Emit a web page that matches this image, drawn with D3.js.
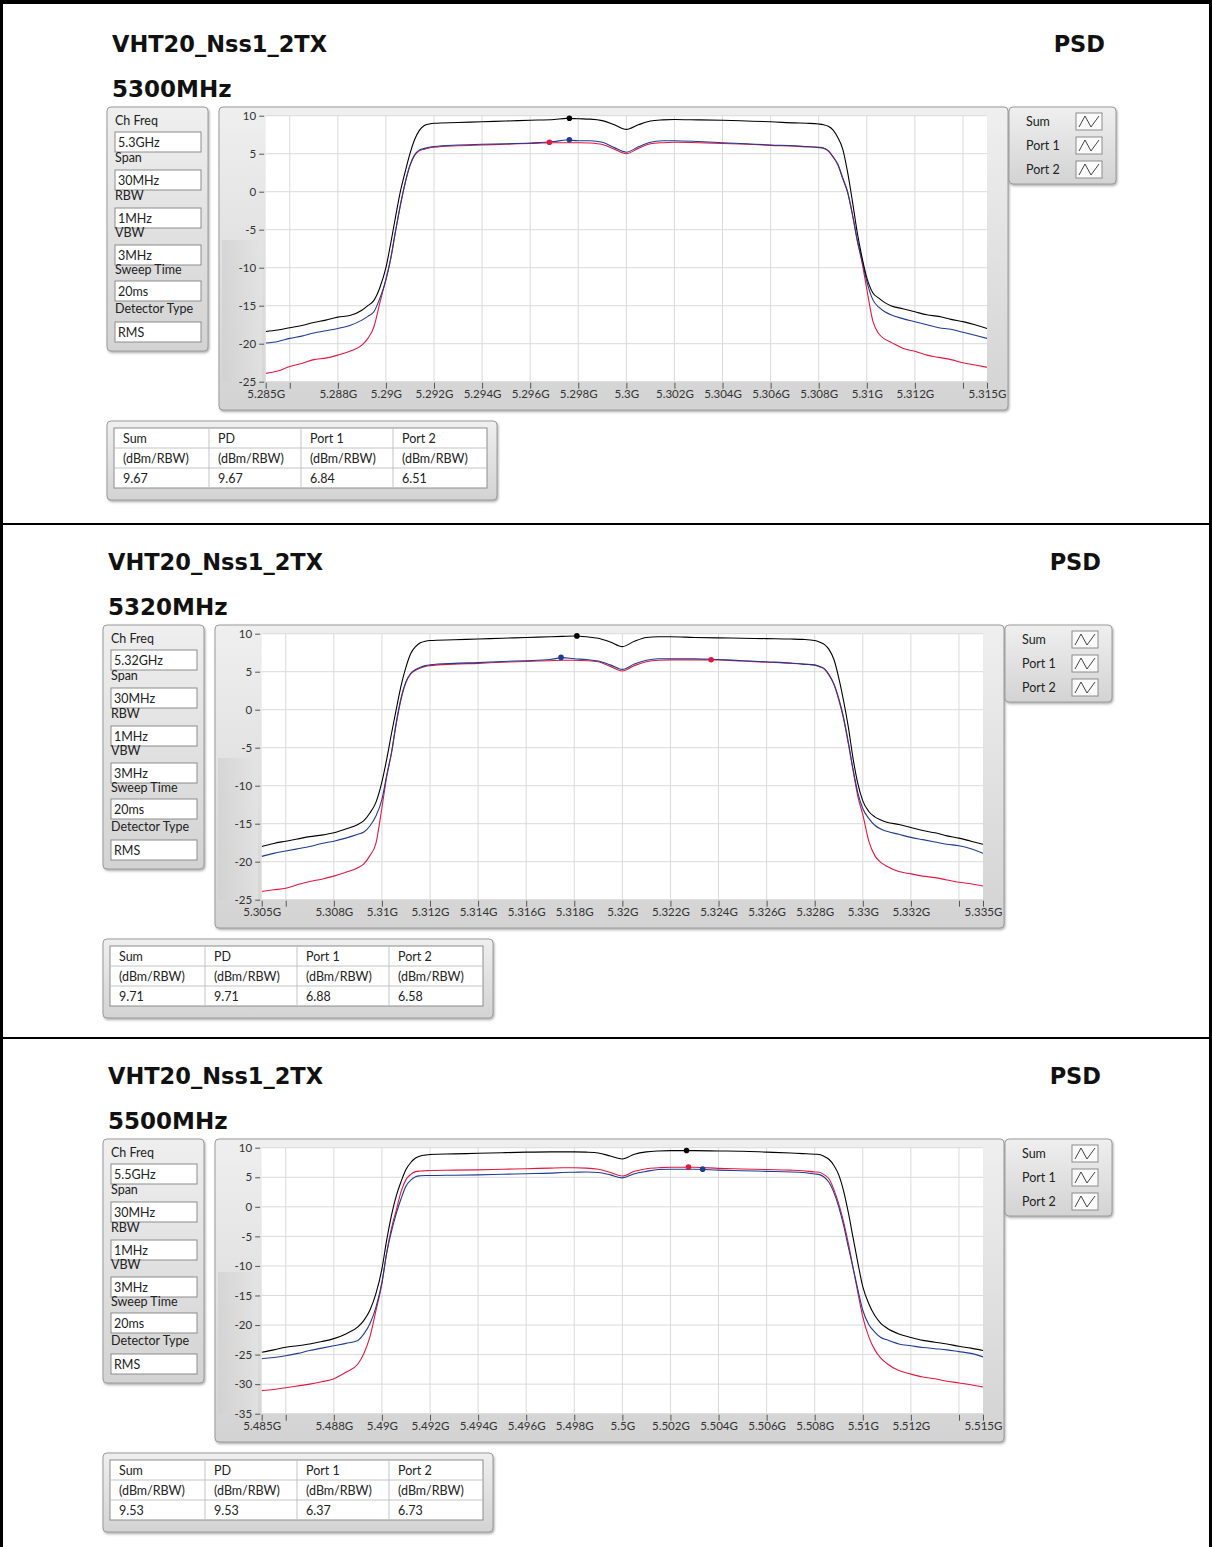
<!DOCTYPE html>
<html>
<head>
<meta charset="utf-8">
<script src="https://cdn.jsdelivr.net/npm/d3@7"></script>
<style>
body { margin: 0; background: #fff; }
svg text { font-family: Lato, "Noto Sans", sans-serif; fill: #222; }
.title { font-family: "DejaVu Sans", sans-serif; font-weight: bold; font-size: 22.5px; fill: #111; }
.ui { font-size: 12.5px; }
.tick text { font-family: Lato, "Noto Sans", sans-serif; font-size: 11.5px; fill: #333; }
</style>
</head>
<body>
<svg id="chart" width="1212" height="1547"></svg>
<script>
// ---- data ----
var modeTitle = "VHT20_Nss1_2TX";
var pageTag = "PSD";
var channelLabels = ["5300MHz", "5320MHz", "5500MHz"];
var centerFreqs = [5300, 5320, 5500];           // MHz
var yMins = [-25, -25, -35];
var yMax = 10;

var paramLabels = ["Ch Freq", "Span", "RBW", "VBW", "Sweep Time", "Detector Type"];
var paramValues = [
    ["5.3GHz", "30MHz", "1MHz", "3MHz", "20ms", "RMS"],
    ["5.32GHz", "30MHz", "1MHz", "3MHz", "20ms", "RMS"],
    ["5.5GHz", "30MHz", "1MHz", "3MHz", "20ms", "RMS"]
];

var seriesNames = ["Sum", "Port 1", "Port 2"];
var tableHeaders = ["Sum", "PD", "Port 1", "Port 2"];
var tableUnit = "(dBm/RBW)";
var tableValues = [
    ["9.67", "9.67", "6.84", "6.51"],
    ["9.71", "9.71", "6.88", "6.58"],
    ["9.53", "9.53", "6.37", "6.73"]
];

// x ticks, MHz from centre
var labelTickOffsets = [-15, -12, -10, -8, -6, -4, -2, 0, 2, 4, 6, 8, 10, 12, 15];
var plainTickOffsets = [-14, 14];
var gridOffsets = [-14, -12, -10, -8, -6, -4, -2, 0, 2, 4, 6, 8, 10, 12, 14];

// trace sample points, MHz from centre
var offsets = [-15, -14.5, -14, -13.5, -13, -12.5, -12, -11.5, -11, -10.75, -10.5, -10.25,
    -10, -9.8, -9.6, -9.4, -9.2, -9, -8.8, -8.6, -8.4, -8.2, -8,
    -7, -6, -5, -4, -3, -2.5, -2, -1.5, -1, -0.5, 0, 0.5, 1, 1.5, 2, 3, 4, 5, 6, 7, 7.5, 8,
    8.2, 8.4, 8.6, 8.8, 9, 9.2, 9.4, 9.6, 9.8, 10, 10.25,
    10.5, 10.75, 11, 11.5, 12, 12.5, 13, 13.5, 14, 14.5, 15];

var sum5300 = [-18.4, -18.2, -17.9, -17.6, -17.2, -16.9, -16.5, -16.3, -15.6, -15.0, -14.3, -12.6,
    -10.0, -6.8, -3.3, 0.0, 2.6, 5.0, 6.9, 8.1, 8.7, 8.9, 9.0,
    9.1, 9.2, 9.3, 9.4, 9.5, 9.65, 9.6, 9.55, 9.35, 8.8, 8.2, 8.8, 9.3, 9.45, 9.5, 9.45, 9.4, 9.3, 9.2, 9.05, 9.0, 8.9,
    8.8, 8.6, 8.1, 7.1, 5.6, 2.6, -1.2, -5.3, -8.6, -11.3, -13.3,
    -14.0, -14.6, -15.0, -15.4, -15.8, -16.2, -16.4, -16.8, -17.1, -17.5, -18.0];
var port1_5300 = [-19.9, -19.7, -19.3, -19.0, -18.6, -18.3, -18.0, -17.6, -16.9, -16.4, -15.8, -14.0,
    -11.6, -8.8, -5.2, -1.8, 1.2, 3.5, 4.9, 5.5, 5.7, 5.85, 5.95,
    6.15, 6.25, 6.3, 6.4, 6.6, 6.8, 6.7, 6.7, 6.5, 5.8, 5.2, 5.9, 6.5, 6.7, 6.7, 6.6, 6.45, 6.3, 6.15, 6.05, 5.95, 5.85,
    5.75, 5.4, 4.6, 3.6, 1.8, 0.0, -2.9, -6.3, -9.0, -11.8, -14.2,
    -15.2, -15.8, -16.2, -16.7, -17.1, -17.5, -17.9, -18.1, -18.5, -18.9, -19.3];
var port2_5300 = [-23.9, -23.6, -23.0, -22.6, -22.1, -21.9, -21.5, -21.0, -20.2, -19.3, -17.8, -14.6,
    -11.5, -8.8, -5.2, -1.8, 1.1, 3.4, 4.8, 5.4, 5.6, 5.75, 5.85,
    6.05, 6.15, 6.25, 6.35, 6.45, 6.45, 6.45, 6.4, 6.2, 5.6, 5.0, 5.7, 6.3, 6.45, 6.5, 6.45, 6.35, 6.25, 6.1, 6.0, 5.9, 5.8,
    5.7, 5.35, 4.55, 3.5, 1.7, -0.1, -3.0, -6.4, -9.3, -12.8, -17.0,
    -18.7, -19.4, -19.8, -20.6, -21.0, -21.5, -21.8, -22.1, -22.5, -22.8, -23.1];

var sum5320 = [-18.0, -17.6, -17.3, -17.0, -16.7, -16.5, -16.2, -15.7, -15.1, -14.6, -13.6, -12.2,
    -9.5, -6.5, -3.1, 0.1, 3.2, 5.6, 7.4, 8.3, 8.8, 9.0, 9.1,
    9.2, 9.3, 9.4, 9.5, 9.6, 9.65, 9.7, 9.6, 9.4, 8.9, 8.3, 9.0, 9.5, 9.6, 9.6, 9.5, 9.45, 9.4, 9.35, 9.3, 9.25, 9.1,
    8.9, 8.6, 7.9, 6.6, 4.2, 1.2, -2.3, -6.5, -9.8, -12.0, -13.4,
    -14.1, -14.5, -14.8, -15.1, -15.5, -15.9, -16.2, -16.6, -16.9, -17.3, -17.7];
var port1_5320 = [-19.3, -18.9, -18.6, -18.3, -18.0, -17.6, -17.3, -16.9, -16.4, -16.1, -15.3, -14.0,
    -11.8, -8.6, -5.6, -1.6, 1.6, 3.7, 4.8, 5.3, 5.6, 5.8, 5.9,
    6.1, 6.2, 6.35, 6.45, 6.6, 6.85, 6.7, 6.6, 6.4, 5.9, 5.3, 6.0, 6.5, 6.7, 6.7, 6.7, 6.6, 6.45, 6.3, 6.15, 6.0, 5.9,
    5.7, 5.4, 4.6, 3.4, 1.5, -1.0, -4.3, -7.9, -11.0, -13.0, -14.3,
    -15.2, -15.7, -16.0, -16.4, -16.8, -17.1, -17.4, -17.7, -17.9, -18.3, -18.9];
var port2_5320 = [-23.9, -23.7, -23.5, -23.0, -22.6, -22.3, -21.9, -21.4, -20.8, -20.3, -19.2, -17.6,
    -12.9, -8.8, -5.7, -1.8, 1.4, 3.6, 4.7, 5.2, 5.5, 5.7, 5.8,
    6.0, 6.1, 6.25, 6.35, 6.45, 6.5, 6.5, 6.45, 6.3, 5.7, 5.1, 5.8, 6.3, 6.5, 6.55, 6.55, 6.55, 6.4, 6.25, 6.1, 6.0, 5.85,
    5.65, 5.35, 4.5, 3.3, 1.3, -1.2, -4.5, -8.1, -11.5, -13.8, -17.3,
    -19.2, -20.1, -20.6, -21.3, -21.6, -21.9, -22.1, -22.4, -22.7, -22.9, -23.2];

var sum5500 = [-24.6, -24.2, -23.75, -23.5, -23.2, -22.8, -22.3, -21.5, -20.3, -19.2, -17.5, -14.7,
    -10.5, -5.6, -1.4, 1.9, 4.3, 6.3, 7.5, 8.25, 8.6, 8.75, 8.85,
    8.95, 9.05, 9.15, 9.25, 9.3, 9.3, 9.3, 9.25, 9.1, 8.6, 8.1, 8.9, 9.3, 9.45, 9.5, 9.5, 9.45, 9.4, 9.25, 9.1, 9.0, 8.9,
    8.85, 8.5, 8.0, 7.0, 5.4, 2.7, -1.0, -5.3, -9.6, -13.5, -16.4,
    -18.4, -19.7, -20.5, -21.5, -22.1, -22.6, -22.9, -23.2, -23.6, -23.9, -24.3];
var port1_5500 = [-25.7, -25.5, -25.2, -24.8, -24.3, -23.9, -23.5, -23.1, -22.6, -21.5, -19.8, -17.0,
    -12.8, -7.8, -4.1, -1.1, 1.4, 3.5, 4.5, 5.1, 5.25, 5.3, 5.3,
    5.35, 5.4, 5.5, 5.6, 5.7, 5.8, 5.85, 5.9, 5.8, 5.4, 4.9, 5.6, 6.0, 6.3, 6.35, 6.35, 6.2, 6.1, 6.0, 5.9, 5.8, 5.55,
    5.45, 5.0, 4.1, 2.4, 0.0, -3.1, -6.8, -10.4, -14.1, -17.5, -19.9,
    -21.2, -22.1, -22.5, -23.2, -23.5, -23.8, -24.0, -24.2, -24.5, -24.8, -25.4];
var port2_5500 = [-31.1, -30.9, -30.6, -30.3, -30.0, -29.6, -29.1, -28.0, -26.6, -24.8, -22.0, -17.6,
    -13.0, -7.7, -3.6, -0.5, 2.6, 4.6, 5.5, 5.95, 6.05, 6.1, 6.15,
    6.2, 6.25, 6.35, 6.45, 6.55, 6.6, 6.6, 6.55, 6.35, 5.8, 5.2, 6.0, 6.45, 6.6, 6.7, 6.7, 6.5, 6.4, 6.3, 6.2, 6.1, 5.9,
    5.85, 5.4, 4.7, 2.9, 0.5, -2.5, -6.2, -10.4, -14.6, -18.6, -22.0,
    -24.2, -25.6, -26.5, -27.7, -28.3, -28.8, -29.1, -29.5, -29.8, -30.1, -30.5];

// peak markers: MHz from centre for Sum, Port 1, Port 2 (levels are the table values)
var markerOffsets = [[-2.37, -2.37, -3.2], [-1.89, -2.55, 3.69], [2.67, 3.34, 2.75]];

var panelTraces = [
    [sum5300, port1_5300, port2_5300],
    [sum5320, port1_5320, port2_5320],
    [sum5500, port1_5500, port2_5500]
];

// ---- layout ----
var seriesColors = ["#000000", "#1f3c92", "#e3173f"];
var panelShift = [[0, 0], [-4, 518], [-4, 1032]];
var plot = {left: 265.7, right: 987, top: 115.7, bottom: 381.7};
var fieldTops = [132, 170, 208, 245, 281, 322];
var labelBase = [125, 162, 200, 237, 274, 313];
var colEdges = [114, 209, 301, 393, 487];
var rowEdges = [428, 448, 468, 488];

var svg = d3.select("#chart");
var defs = svg.append("defs");

var grad = defs.append("linearGradient").attr("id", "frameGrad")
    .attr("x1", 0).attr("y1", 0).attr("x2", 0).attr("y2", 1);
grad.append("stop").attr("offset", "0%").attr("stop-color", "#efefef");
grad.append("stop").attr("offset", "100%").attr("stop-color", "#d3d3d3");

var side = defs.append("linearGradient").attr("id", "sideGrad")
    .attr("x1", 0).attr("y1", 0).attr("x2", 1).attr("y2", 0);
side.append("stop").attr("offset", "0%").attr("stop-color", "#d0d0d0");
side.append("stop").attr("offset", "100%").attr("stop-color", "#e4e4e4");

defs.append("filter").attr("id", "shadow")
    .attr("x", "-5%").attr("y", "-5%").attr("width", "110%").attr("height", "115%")
    .append("feDropShadow")
    .attr("dx", 1).attr("dy", 1.5).attr("stdDeviation", 1.2)
    .attr("flood-color", "#666").attr("flood-opacity", 0.55);

function frame(g, x, y, w, h, fill) {
    return g.append("rect")
        .attr("x", x).attr("y", y).attr("width", w).attr("height", h)
        .attr("rx", 4)
        .attr("fill", fill || "url(#frameGrad)")
        .attr("stroke", "#9c9c9c")
        .attr("filter", "url(#shadow)");
}

function drawPanel(i) {
    var g = svg.append("g")
        .attr("transform", "translate(" + panelShift[i][0] + "," + panelShift[i][1] + ")");
    var center = centerFreqs[i];

    // headings
    g.append("text").attr("class", "title").attr("x", 112).attr("y", 52).text(modeTitle);
    g.append("text").attr("class", "title").attr("x", 1105).attr("y", 52)
        .attr("text-anchor", "end").text(pageTag);
    g.append("text").attr("class", "title").attr("x", 112).attr("y", 97)
        .style("font-size", "23px").text(channelLabels[i]);

    // settings box
    frame(g, 107, 107, 101, 244);
    paramLabels.forEach(function (lab, k) {
        g.append("text").attr("class", "ui").attr("x", 115).attr("y", labelBase[k]).text(lab);
        g.append("rect").attr("x", 115).attr("y", fieldTops[k]).attr("width", 86).attr("height", 20)
            .attr("fill", "#fff").attr("stroke", "#8c8c8c");
        g.append("text").attr("class", "ui").attr("x", 118).attr("y", fieldTops[k] + 15)
            .text(paramValues[i][k]);
    });

    // graph frame
    frame(g, 219, 107, 789, 303);
    g.append("rect").attr("x", 222).attr("y", 240).attr("width", 40).attr("height", 142)
        .attr("fill", "url(#sideGrad)").attr("opacity", 0.7);

    var x = d3.scaleLinear().domain([center - 15, center + 15]).range([plot.left, plot.right]);
    var y = d3.scaleLinear().domain([yMins[i], yMax]).range([plot.bottom, plot.top]);

    g.append("rect").attr("x", plot.left).attr("y", plot.top)
        .attr("width", plot.right - plot.left).attr("height", plot.bottom - plot.top)
        .attr("fill", "#fff");

    var yTicks = d3.range(yMins[i], yMax + 1, 5);

    // grid
    var grid = g.append("g").attr("stroke", "#dadada").attr("stroke-width", 1);
    grid.selectAll("line.v").data(gridOffsets).enter().append("line")
        .attr("x1", function (d) { return x(center + d); })
        .attr("x2", function (d) { return x(center + d); })
        .attr("y1", plot.top).attr("y2", plot.bottom);
    grid.selectAll("line.h").data(yTicks).enter().append("line")
        .attr("x1", plot.left).attr("x2", plot.right)
        .attr("y1", function (d) { return y(d); })
        .attr("y2", function (d) { return y(d); });

    // axes
    var yAxis = d3.axisLeft(y).tickValues(yTicks).tickSize(5).tickPadding(3)
        .tickFormat(function (d) { return String(d); });
    var yg = g.append("g").attr("transform", "translate(" + (plot.left - 1.5) + ",0)").call(yAxis);
    yg.select(".domain").remove();
    yg.selectAll(".tick line").attr("stroke", "#555");

    var fmt = d3.format(".4~f");
    var xTickVals = labelTickOffsets.concat(plainTickOffsets).map(function (d) { return center + d; });
    var xAxis = d3.axisBottom(x).tickValues(xTickVals).tickSize(6).tickPadding(1)
        .tickFormat(function (d) {
            return labelTickOffsets.indexOf(d - center) >= 0 ? fmt(d / 1000) + "G" : "";
        });
    var xg = g.append("g").attr("transform", "translate(0," + (plot.bottom + 1) + ")").call(xAxis);
    xg.select(".domain").remove();
    xg.selectAll(".tick line").attr("stroke", "#555");

    // traces
    var clipId = "clip" + i;
    g.append("clipPath").attr("id", clipId).append("rect")
        .attr("x", plot.left).attr("y", plot.top - 2)
        .attr("width", plot.right - plot.left).attr("height", plot.bottom - plot.top + 4);

    var line = d3.line()
        .x(function (d, k) { return x(center + offsets[k]); })
        .y(function (d) { return y(d); })
        .curve(d3.curveMonotoneX);

    var traces = g.append("g").attr("clip-path", "url(#" + clipId + ")");
    [2, 1, 0].forEach(function (s) {
        traces.append("path")
            .attr("d", line(panelTraces[i][s]))
            .attr("fill", "none")
            .attr("stroke", seriesColors[s])
            .attr("stroke-width", 1.1);
    });

    // peak markers
    var peakVals = [tableValues[i][0], tableValues[i][2], tableValues[i][3]];
    [2, 1, 0].forEach(function (s) {
        traces.append("circle")
            .attr("cx", x(center + markerOffsets[i][s]))
            .attr("cy", y(+peakVals[s]))
            .attr("r", 2.8)
            .attr("fill", seriesColors[s]);
    });

    // legend
    frame(g, 1009, 107, 107, 77);
    seriesNames.forEach(function (name, k) {
        var top = 113 + k * 24;
        g.append("text").attr("class", "ui").attr("x", 1026).attr("y", top + 13).text(name);
        g.append("rect").attr("x", 1076).attr("y", top).attr("width", 26).attr("height", 17)
            .attr("fill", "#fbfbfb").attr("stroke", "#8c8c8c");
        g.append("polyline")
            .attr("points", [[1079, top + 14], [1085, top + 3], [1091, top + 14], [1099, top + 3]]
                .map(function (p) { return p.join(","); }).join(" "))
            .attr("fill", "none").attr("stroke", "#444").attr("stroke-width", 1);
    });

    // result table
    frame(g, 107, 421, 390, 79);
    g.append("rect").attr("x", colEdges[0]).attr("y", rowEdges[0])
        .attr("width", colEdges[4] - colEdges[0]).attr("height", rowEdges[3] - rowEdges[0])
        .attr("fill", "#fff").attr("stroke", "#8c8c8c");
    var cells = g.append("g").attr("stroke", "#c4c4c4");
    colEdges.slice(1, 4).forEach(function (cx) {
        cells.append("line").attr("x1", cx).attr("x2", cx).attr("y1", rowEdges[0]).attr("y2", rowEdges[3]);
    });
    rowEdges.slice(1, 3).forEach(function (ry) {
        cells.append("line").attr("x1", colEdges[0]).attr("x2", colEdges[4]).attr("y1", ry).attr("y2", ry);
    });
    tableHeaders.forEach(function (h, c) {
        var tx = colEdges[c] + 9;
        g.append("text").attr("class", "ui").attr("x", tx).attr("y", rowEdges[0] + 14.5).text(h);
        g.append("text").attr("class", "ui").attr("x", tx).attr("y", rowEdges[1] + 14.5)
            .style("font-size", "12.5px").text(tableUnit);
        g.append("text").attr("class", "ui").attr("x", tx).attr("y", rowEdges[2] + 14.5)
            .text(tableValues[i][c]);
    });
}

// page border and separators
svg.append("rect").attr("x", 0).attr("y", 0).attr("width", 1212).attr("height", 4).attr("fill", "#000");
svg.append("rect").attr("x", 0).attr("y", 0).attr("width", 3).attr("height", 1547).attr("fill", "#000");
svg.append("rect").attr("x", 1209).attr("y", 0).attr("width", 3).attr("height", 1547).attr("fill", "#000");
svg.append("rect").attr("x", 0).attr("y", 523).attr("width", 1212).attr("height", 2).attr("fill", "#000");
svg.append("rect").attr("x", 0).attr("y", 1037).attr("width", 1212).attr("height", 2).attr("fill", "#000");

for (var p = 0; p < 3; p++) drawPanel(p);
</script>
</body>
</html>
